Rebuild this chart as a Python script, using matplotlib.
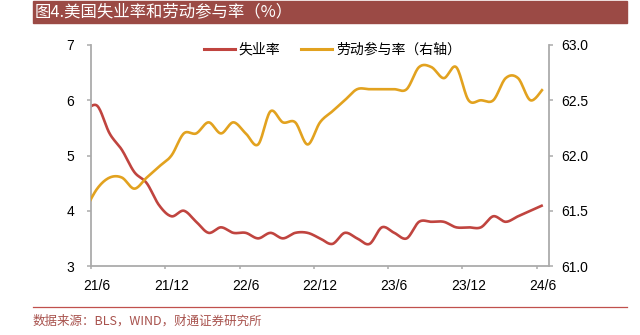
import matplotlib

matplotlib.use("Agg")
import matplotlib.pyplot as plt
import numpy as np
from matplotlib.lines import Line2D

plt.rcParams["font.family"] = ["Liberation Sans", "Noto Sans CJK SC", "DejaVu Sans"]

# 月度数据（21/5 只用来让曲线在左轴处衔接）
months = ["21/5", "21/6", "21/7", "21/8", "21/9", "21/10", "21/11", "21/12",
          "22/1", "22/2", "22/3", "22/4", "22/5", "22/6", "22/7", "22/8",
          "22/9", "22/10", "22/11", "22/12", "23/1", "23/2", "23/3", "23/4",
          "23/5", "23/6", "23/7", "23/8", "23/9", "23/10", "23/11", "23/12",
          "24/1", "24/2", "24/3", "24/4", "24/5", "24/6"]
unemployment = [5.8, 5.9, 5.4, 5.1, 4.7, 4.5, 4.1, 3.9,
                4.0, 3.8, 3.6, 3.7, 3.6, 3.6, 3.5, 3.6,
                3.5, 3.6, 3.6, 3.5, 3.4, 3.6, 3.5, 3.4,
                3.7, 3.6, 3.5, 3.8, 3.8, 3.8, 3.7, 3.7,
                3.7, 3.9, 3.8, 3.9, 4.0, 4.1]
participation = [61.5, 61.7, 61.8, 61.8, 61.7, 61.8, 61.9, 62.0,
                 62.2, 62.2, 62.3, 62.2, 62.3, 62.2, 62.1, 62.4,
                 62.3, 62.3, 62.1, 62.3, 62.4, 62.5, 62.6, 62.6,
                 62.6, 62.6, 62.6, 62.8, 62.8, 62.7, 62.8, 62.5,
                 62.5, 62.5, 62.7, 62.7, 62.5, 62.6]
tick_labels = ["21/6", "21/12", "22/6", "22/12", "23/6", "23/12", "24/6"]

RED = "#C0443F"
GOLD = "#E2A21F"
GREY = "#ABABAB"
BAR = "#9B4A45"


def smooth(x, y, n=16):
    """Catmull-Rom 平滑曲线，经过每个数据点。"""
    x = np.asarray(x, float)
    y = np.asarray(y, float)
    px = np.concatenate([[x[0]], x, [x[-1]]])
    py = np.concatenate([[y[0]], y, [y[-1]]])
    t = np.linspace(0, 1, n, endpoint=False)[:, None]
    out = []
    for p in (px, py):
        p0, p1, p2, p3 = p[:-3], p[1:-2], p[2:-1], p[3:]
        seg = 0.5 * (2 * p1 + (-p0 + p2) * t + (2 * p0 - 5 * p1 + 4 * p2 - p3) * t ** 2
                     + (-p0 + 3 * p1 - 3 * p2 + p3) * t ** 3)
        out.append(np.append(seg.T.ravel(), p[-2]))
    return out


x = np.arange(len(months)) - months.index("21/6")

fig = plt.figure(figsize=(6.4, 3.35), dpi=100)

# 标题栏
fig.patches.append(plt.Rectangle((33 / 640, 1 - 23 / 335), 594 / 640, 22 / 335,
                                 transform=fig.transFigure, color=BAR, zorder=0))
fig.text(35 / 640, 1 - 12 / 335, "图4.美国失业率和劳动参与率（%）", color="white",
         fontsize=11.8, va="center", ha="left", family=["Noto Sans CJK SC", "DejaVu Sans"])

ax = fig.add_axes([91 / 640, 1 - 266 / 335, 458 / 640, 221 / 335])
ax2 = ax.twinx()

sx, sy = smooth(x, unemployment)
ax.plot(sx, sy, color=RED, linewidth=1.9, solid_capstyle="butt")
sx, sy = smooth(x, participation)
ax2.plot(sx, sy, color=GOLD, linewidth=1.9, solid_capstyle="butt")

ax.set_xlim(-0.5, 36.5)
ax.set_ylim(3, 7)
ax.set_yticks(range(3, 8))
ax2.set_ylim(61, 63)
ax2.set_yticks(np.arange(61, 63.01, 0.5))
ax2.set_yticklabels([f"{v:.1f}" for v in np.arange(61, 63.01, 0.5)])

label_pos = [x[months.index(m)] for m in tick_labels]
ax.set_xticks(np.array(label_pos) - 0.5)
ax.set_xticklabels([])
ax.set_xticks(label_pos, minor=True)
ax.set_xticklabels(tick_labels, minor=True)

for a in (ax, ax2):
    for s in a.spines.values():
        s.set_visible(False)
ax.spines["left"].set_visible(True)
ax.spines["bottom"].set_visible(True)
ax2.spines["right"].set_visible(True)
for s in (ax.spines["left"], ax.spines["bottom"], ax2.spines["right"]):
    s.set_color(GREY)
    s.set_linewidth(1.3)

ax.tick_params(axis="y", direction="out", length=3, width=1.1, color=GREY,
               labelsize=10, pad=9)
ax.tick_params(axis="x", which="major", direction="out", length=2.5, width=1.1, color=GREY)
ax.tick_params(axis="x", which="minor", length=0, labelsize=10, pad=9)
ax2.tick_params(axis="y", direction="out", length=3, width=1.1, color=GREY,
                labelsize=10, pad=6)

handles = [Line2D([], [], color=RED, linewidth=2.2),
           Line2D([], [], color=GOLD, linewidth=2.2)]
fig.legend(handles, ["失业率", "劳动参与率（右轴）"], loc="center left",
           bbox_to_anchor=(197 / 640, 1 - 49.5 / 335), ncol=2, frameon=False,
           borderpad=0, handlelength=2.2, handletextpad=0.3, columnspacing=1.5,
           prop={"family": ["Noto Sans CJK SC", "DejaVu Sans"], "size": 10})

# 底部分隔线与数据来源
fig.add_artist(Line2D([33 / 640, 627 / 640], [1 - 306.5 / 335] * 2,
                      transform=fig.transFigure, color="#C0504D", linewidth=0.9))
fig.text(33 / 640, 1 - 321 / 335, "数据来源：BLS，WIND，财通证券研究所", color="#A8524D",
         fontsize=9, va="center", ha="left", family=["Noto Sans CJK SC", "DejaVu Sans"])

fig.savefig("out.png", dpi=100)
